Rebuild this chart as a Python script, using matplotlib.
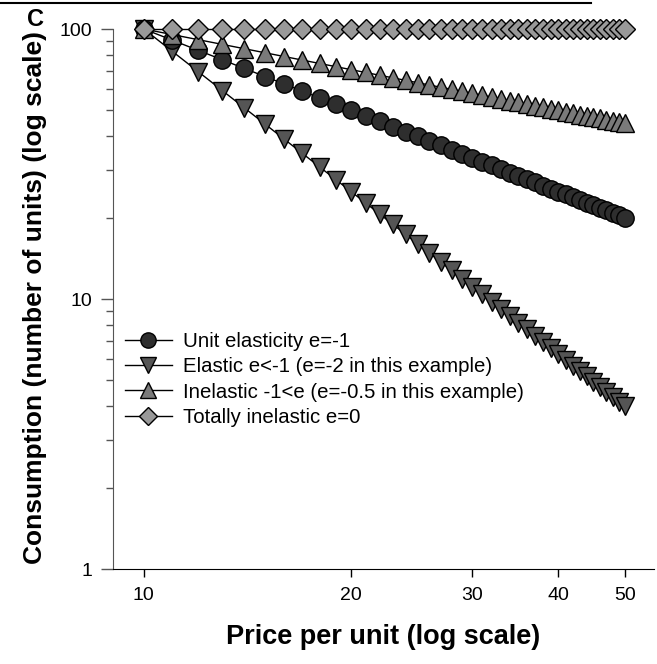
import numpy as np
import matplotlib
matplotlib.use("Agg")
import matplotlib.pyplot as plt
from matplotlib.lines import Line2D
from matplotlib.ticker import FixedLocator, FuncFormatter, LogLocator, NullFormatter, NullLocator

plt.rcParams['font.family'] = ['Liberation Sans', 'DejaVu Sans']

price = [10, 11, 12, 13, 14, 15, 16, 17, 18, 19, 20, 21, 22, 23, 24, 25,
         26, 27, 28, 29, 30, 31, 32, 33, 34, 35, 36, 37, 38, 39, 40, 41,
         42, 43, 44, 45, 46, 47, 48, 49, 50]

unit = [100, 90.91, 83.33, 76.92, 71.43, 66.67, 62.5, 58.82, 55.56, 52.63,
        50, 47.62, 45.45, 43.48, 41.67, 40, 38.46, 37.04, 35.71, 34.48,
        33.33, 32.26, 31.25, 30.30, 29.41, 28.57, 27.78, 27.03, 26.32, 25.64,
        25, 24.39, 23.81, 23.26, 22.73, 22.22, 21.74, 21.28, 20.83, 20.41, 20]

elastic = [100, 82.64, 69.44, 59.17, 51.02, 44.44, 39.06, 34.60, 30.86, 27.70,
           25, 22.68, 20.66, 18.90, 17.36, 16, 14.79, 13.72, 12.76, 11.89,
           11.11, 10.41, 9.77, 9.18, 8.65, 8.16, 7.72, 7.30, 6.93, 6.57,
           6.25, 5.95, 5.67, 5.41, 5.17, 4.94, 4.73, 4.53, 4.34, 4.16, 4]

inelastic = [100, 95.35, 91.29, 87.71, 84.52, 81.65, 79.06, 76.70, 74.54, 72.55,
             70.71, 69.01, 67.42, 65.94, 64.55, 63.25, 62.02, 60.86, 59.76, 58.72,
             57.74, 56.80, 55.90, 55.05, 54.23, 53.45, 52.70, 51.99, 51.30, 50.64,
             50.00, 49.39, 48.80, 48.22, 47.67, 47.14, 46.63, 46.13, 45.64, 45.18, 44.72]

total = [100] * len(price)

labels = ["Unit elasticity e=-1",
          "Elastic e<-1 (e=-2 in this example)",
          "Inelastic -1<e (e=-0.5 in this example)",
          "Totally inelastic e=0"]

fig = plt.figure(figsize=(6.57, 6.64), dpi=100)
ax = fig.add_axes([113 / 657, 1 - 569 / 664, 541 / 657, 540 / 664])

common = dict(color='black', lw=1, markeredgecolor='black', markeredgewidth=1)
l_el, = ax.plot(price, elastic, marker='v', ms=13, markerfacecolor='#555555', **common)
l_un, = ax.plot(price, unit, marker='o', ms=12.5, markerfacecolor='#2e2e2e', **common)
l_in, = ax.plot(price, inelastic, marker='^', ms=13, markerfacecolor='#7a7a7a', **common)
l_to, = ax.plot(price, total, marker='D', ms=10, markerfacecolor='#999999', **common)

ax.set_xscale('log')
ax.set_yscale('log')
ax.set_xlim(9.02, 55.1)
ax.set_ylim(1, 100)

ax.xaxis.set_major_locator(FixedLocator([10, 20, 30, 40, 50]))
ax.xaxis.set_minor_locator(NullLocator())
ax.xaxis.set_major_formatter(FuncFormatter(lambda v, p: "%d" % v))
ax.xaxis.set_minor_formatter(NullFormatter())

ax.yaxis.set_major_locator(FixedLocator([1, 10, 100]))
ax.yaxis.set_minor_locator(LogLocator(base=10, subs=np.arange(2, 10)))
ax.yaxis.set_major_formatter(FuncFormatter(lambda v, p: "%d" % v))
ax.yaxis.set_minor_formatter(NullFormatter())

for s in ['top', 'right']:
    ax.spines[s].set_visible(False)
ax.spines['left'].set_color('#555555')
ax.spines['bottom'].set_color('black')

ax.tick_params(axis='x', which='major', length=6, width=1, labelsize=14, pad=7, color='black')
ax.tick_params(axis='y', which='major', length=8.5, width=1, labelsize=14, pad=6.5, color='#555555')
ax.tick_params(axis='y', which='minor', length=5, width=1, color='#555555')
for l in [l_el, l_un, l_in, l_to]:
    l.set_clip_on(False)

ax.set_xlabel("Price per unit (log scale)", fontsize=19.5, fontweight='bold')
ax.set_ylabel("Consumption (number of units) (log scale)", fontsize=19, fontweight='bold')
ax.xaxis.label.set_va('center')
ax.yaxis.label.set_va('center')
ax.xaxis.set_label_coords(0.5, (569 - 637) / 540)
ax.yaxis.set_label_coords((35 - 113) / 541, (569 - 297) / 540)

ax.legend([l_un, l_el, l_in, l_to], labels, loc='center left',
          bbox_to_anchor=((125 - 113) / 541, (569 - 379.5) / 540),
          frameon=False, fontsize=14.7, borderpad=0, borderaxespad=0,
          handlelength=2.3, handletextpad=0.53, labelspacing=0.3,
          markerscale=0.88)

fig.text(36 / 657, 1 - 19 / 664, "C", fontsize=17, fontweight='bold',
         ha='center', va='center')
fig.add_artist(Line2D([0, 591 / 657], [1 - 3 / 664, 1 - 3 / 664],
                      color='black', lw=1.5, transform=fig.transFigure))

fig.savefig("out.png", dpi=100)
